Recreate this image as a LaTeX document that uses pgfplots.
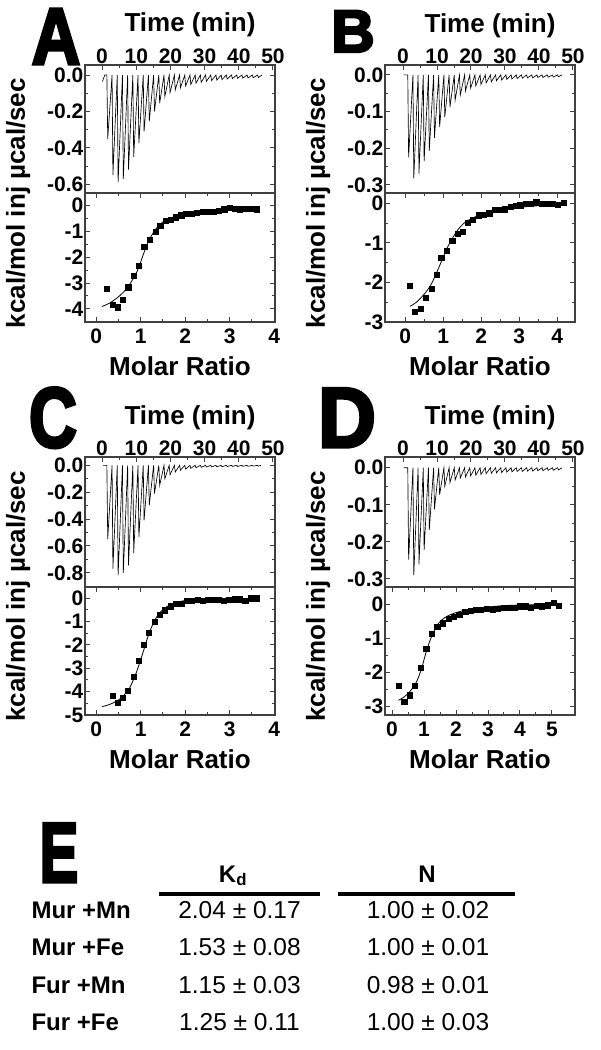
\documentclass[border=0pt]{standalone}
\usepackage{pgfplots}
\pgfplotsset{compat=1.18}
\usepackage{fontspec}
\setmainfont{Liberation Sans}
\newfontfamily\heavyfont{Liberation Sans}[BoldFont={Liberation Sans Bold},BoldFeatures={FakeBold=4}]
\newcommand\ticksfont{\fontsize{21}{23}\selectfont\bfseries}
\newcommand\titlefont{\fontsize{26}{30}\selectfont\bfseries}
\newcommand\rowfont{\fontsize{24}{28}\selectfont\bfseries}
\newcommand\valfont{\fontsize{24.5}{28}\selectfont}
\newcommand\letterfont{\fontsize{85}{95}\selectfont\heavyfont\bfseries}

\pgfplotsset{
  itc/.style={scale only axis, width=190pt,
    axis line style={line width=1.2pt, black!75},
    tick style={line width=1pt, black!75},
    major tick length=5pt, minor tick length=3pt, tick align=inside,
    tick label style={font=\ticksfont, inner sep=1.5pt},
    label style={font=\titlefont},
    clip=true},
  topax/.style={itc,
    xtick={0,10,20,30,40,50}, xticklabels={0,10,20,30,40,50},
    minor x tick num=1, xtick pos=right, xticklabel pos=right,
    minor y tick num=1,
    xlabel={Time (min)},
    xlabel style={at={(axis description cs:0.553,1)}, anchor=base, yshift=33pt},
    ylabel={µcal/sec},
    ylabel style={at={(axis description cs:-0.316,0.5)}, anchor=base}},
  botax/.style={itc,
    minor x tick num=1, minor y tick num=1,
    xticklabel style={yshift=-5pt},
    xlabel={Molar Ratio},
    xlabel style={at={(axis description cs:0.5,0)}, anchor=base, yshift=-53pt},
    ylabel={kcal/mol inj},
    ylabel style={at={(axis description cs:-0.316,0.5)}, anchor=base}},
  raw/.style={line width=0.65pt, black},
  fit/.style={line width=0.8pt, black, smooth, tension=0.5},
  pts/.style={only marks, mark=square*, mark size=2.6pt, black},
}

\begin{document}
\begin{tikzpicture}
%================ A ================
\begin{axis}[topax, at={(85pt,-193pt)}, anchor=south west, height=128pt,
  xmin=-5, xmax=50.6, ymin=-0.648, ymax=0.055,
  ytick={0,-0.2,-0.4,-0.6}, yticklabels={0.0,-0.2,-0.4,-0.6}]
\addplot[raw] coordinates {
(0.1,-0.035) (0.8,0)
(1.40,0) (1.65,-0.35) (2.92,0) (3.17,-0.55) (4.44,0) (4.69,-0.59)
(5.96,0) (6.21,-0.57) (7.48,0) (7.73,-0.52) (9.00,0) (9.25,-0.45)
(10.52,0) (10.77,-0.375) (12.04,0) (12.29,-0.31) (13.56,0) (13.81,-0.255)
(15.08,0) (15.33,-0.20) (16.60,0) (16.85,-0.155) (18.12,0) (18.37,-0.118)
(19.64,0) (19.89,-0.097) (21.16,0) (21.41,-0.082) (22.68,0) (22.93,-0.07)
(24.20,0) (24.45,-0.06) (25.72,0) (25.97,-0.052) (27.24,0) (27.49,-0.045)
(28.76,0) (29.01,-0.04) (30.28,0) (30.53,-0.035) (31.80,0) (32.05,-0.031)
(33.32,0) (33.57,-0.028) (34.84,0) (35.09,-0.025) (36.36,0) (36.61,-0.022)
(37.88,0) (38.13,-0.02) (39.40,0) (39.65,-0.018) (40.92,0) (41.17,-0.017)
(42.44,0) (42.69,-0.016) (43.96,0) (44.21,-0.015) (45.48,0) (45.73,-0.014)
(46.8,0)};
\end{axis}
\begin{axis}[botax, at={(85pt,-193pt)}, anchor=north west, height=129pt,
  xmin=-0.25, xmax=4.02, ymin=-4.51, ymax=0.49,
  xtick={0,1,2,3,4}, xticklabels={0,1,2,3,4},
  ytick={0,-1,-2,-3,-4}, yticklabels={0,-1,-2,-3,-4}]
\addplot[pts] coordinates {
(0.24,-3.23) (0.37,-3.85) (0.48,-3.94) (0.60,-3.63) (0.72,-3.16)
(0.84,-2.71) (0.95,-2.32) (1.08,-1.59) (1.20,-1.33) (1.33,-1.01)
(1.44,-0.77) (1.57,-0.58) (1.68,-0.53) (1.79,-0.45) (1.91,-0.37)
(2.02,-0.32) (2.15,-0.30) (2.26,-0.26) (2.39,-0.25) (2.50,-0.22)
(2.63,-0.22) (2.75,-0.19) (2.88,-0.14) (3.01,-0.08) (3.12,-0.13)
(3.23,-0.14) (3.37,-0.13) (3.48,-0.12) (3.61,-0.14)};
\addplot[fit] coordinates {
(0.13,-3.91) (0.3,-3.78) (0.46,-3.59) (0.6,-3.38) (0.72,-3.14) (0.85,-2.78)
(0.95,-2.43) (1.08,-1.8) (1.2,-1.3) (1.33,-0.94) (1.44,-0.71) (1.57,-0.56)
(1.8,-0.4) (2.03,-0.3) (2.48,-0.19) (3.08,-0.13) (3.65,-0.10)};
\end{axis}
%================ B ================
\begin{axis}[topax, at={(385pt,-193pt)}, anchor=south west, height=128pt,
  xmin=-5.3, xmax=50.6, ymin=-0.322, ymax=0.027,
  ytick={0,-0.1,-0.2,-0.3}, yticklabels={0.0,-0.1,-0.2,-0.3}]
\addplot[raw] coordinates {
(0.2,0)
(1.40,0) (1.65,-0.225) (2.92,0) (3.17,-0.282) (4.44,0) (4.69,-0.269)
(5.96,0) (6.21,-0.236) (7.48,0) (7.73,-0.207) (9.00,0) (9.25,-0.172)
(10.52,0) (10.77,-0.142) (12.04,0) (12.29,-0.115) (13.56,0) (13.81,-0.088)
(15.08,0) (15.33,-0.069) (16.60,0) (16.85,-0.055) (18.12,0) (18.37,-0.044)
(19.64,0) (19.89,-0.036) (21.16,0) (21.41,-0.030) (22.68,0) (22.93,-0.026)
(24.20,0) (24.45,-0.022) (25.72,0) (25.97,-0.019) (27.24,0) (27.49,-0.016)
(28.76,0) (29.01,-0.014) (30.28,0) (30.53,-0.012) (31.80,0) (32.05,-0.011)
(33.32,0) (33.57,-0.010) (34.84,0) (35.09,-0.009) (36.36,0) (36.61,-0.008)
(37.88,0) (38.13,-0.008) (39.40,0) (39.65,-0.007) (40.92,0) (41.17,-0.007)
(42.44,0) (42.69,-0.006) (43.96,0) (44.21,-0.006) (45.48,0) (45.73,-0.005)
(46.8,0)};
\end{axis}
\begin{axis}[botax, at={(385pt,-193pt)}, anchor=north west, height=129pt,
  xmin=-0.53, xmax=4.47, ymin=-3.0, ymax=0.26,
  xtick={0,1,2,3,4}, xticklabels={0,1,2,3,4},
  ytick={0,-1,-2,-3}, yticklabels={0,-1,-2,-3}]
\addplot[pts] coordinates {
(0.13,-2.09) (0.26,-2.74) (0.40,-2.67) (0.55,-2.38) (0.69,-2.16)
(0.82,-1.81) (0.95,-1.38) (1.10,-1.19) (1.24,-0.94) (1.38,-0.76)
(1.51,-0.71) (1.65,-0.49) (1.78,-0.41) (1.93,-0.30) (2.07,-0.28)
(2.21,-0.25) (2.35,-0.17) (2.49,-0.17) (2.62,-0.15) (2.77,-0.08)
(2.90,-0.07) (3.03,-0.05) (3.17,-0.01) (3.31,-0.02) (3.45,0.03)
(3.59,-0.02) (3.74,-0.02) (3.87,-0.02) (4.02,-0.03) (4.18,0.02)};
\addplot[fit] coordinates {
(0.13,-2.6) (0.3,-2.5) (0.55,-2.24) (0.7,-2.02) (0.82,-1.77) (0.95,-1.48)
(1.1,-1.14) (1.24,-0.89) (1.38,-0.68) (1.54,-0.51) (1.8,-0.36) (2.15,-0.25)
(2.68,-0.14) (3.38,-0.07) (4.18,-0.03)};
\end{axis}
%================ C ================
\begin{axis}[topax, at={(85pt,-587pt)}, anchor=south west, height=130pt,
  xmin=-5, xmax=50.6, ymin=-0.906, ymax=0.062,
  ytick={0,-0.2,-0.4,-0.6,-0.8}, yticklabels={0.0,-0.2,-0.4,-0.6,-0.8}]
\addplot[raw] coordinates {
(0.2,0)
(1.40,0) (1.65,-0.55) (2.92,0) (3.17,-0.77) (4.44,0) (4.69,-0.82)
(5.96,0) (6.21,-0.80) (7.48,0) (7.73,-0.745) (9.00,0) (9.25,-0.653)
(10.52,0) (10.77,-0.534) (12.04,0) (12.29,-0.41) (13.56,0) (13.81,-0.298)
(15.08,0) (15.33,-0.211) (16.60,0) (16.85,-0.149) (18.12,0) (18.37,-0.10)
(19.64,0) (19.89,-0.07) (21.16,0) (21.41,-0.05) (22.68,0) (22.93,-0.036)
(24.20,0) (24.45,-0.028) (25.72,0) (25.97,-0.022) (27.24,0) (27.49,-0.018)
(28.76,0) (29.01,-0.015) (30.28,0) (30.53,-0.013) (31.80,0) (32.05,-0.012)
(33.32,0) (33.57,-0.011) (34.84,0) (35.09,-0.010) (36.36,0) (36.61,-0.009)
(37.88,0) (38.13,-0.008) (39.40,0) (39.65,-0.008) (40.92,0) (41.17,-0.007)
(42.44,0) (42.69,-0.007) (43.96,0) (44.21,-0.006) (45.48,0) (45.73,-0.006)
(46.5,0)};
\end{axis}
\begin{axis}[botax, at={(85pt,-587pt)}, anchor=north west, height=128pt,
  xmin=-0.25, xmax=4.02, ymin=-5.0, ymax=0.48,
  xtick={0,1,2,3,4}, xticklabels={0,1,2,3,4},
  ytick={0,-1,-2,-3,-4,-5}, yticklabels={0,-1,-2,-3,-4,-5}]
\addplot[pts] coordinates {
(0.37,-4.19) (0.48,-4.46) (0.59,-4.26) (0.71,-3.97) (0.84,-3.37)
(0.95,-2.67) (1.07,-2.00) (1.19,-1.46) (1.31,-1.00) (1.43,-0.69)
(1.55,-0.51) (1.67,-0.34) (1.79,-0.23) (1.91,-0.23) (2.03,-0.12)
(2.15,-0.10) (2.28,-0.06) (2.40,-0.10) (2.51,-0.07) (2.63,-0.07)
(2.75,-0.06) (2.87,-0.09) (2.99,-0.07) (3.11,-0.04) (3.23,-0.04)
(3.35,-0.10) (3.48,0.0) (3.60,0.0)};
\addplot[fit] coordinates {
(0.13,-4.64) (0.3,-4.55) (0.5,-4.36) (0.65,-4.1) (0.75,-3.85) (0.88,-3.3)
(0.99,-2.7) (1.1,-2.04) (1.2,-1.45) (1.33,-0.9) (1.44,-0.6) (1.6,-0.35)
(1.78,-0.2) (2.0,-0.1) (2.4,-0.04) (3.0,-0.02) (3.65,-0.01)};
\end{axis}
%================ D ================
\begin{axis}[topax, at={(385pt,-587pt)}, anchor=south west, height=130pt,
  xmin=-5.3, xmax=50.6, ymin=-0.322, ymax=0.029,
  ytick={0,-0.1,-0.2,-0.3}, yticklabels={0.0,-0.1,-0.2,-0.3}]
\addplot[raw] coordinates {
(0.2,0)
(1.40,0) (1.65,-0.248) (2.92,0) (3.17,-0.29) (4.44,0) (4.69,-0.261)
(5.96,0) (6.21,-0.222) (7.48,0) (7.73,-0.168) (9.00,0) (9.25,-0.112)
(10.52,0) (10.77,-0.073) (12.04,0) (12.29,-0.05) (13.56,0) (13.81,-0.04)
(15.08,0) (15.33,-0.033) (16.60,0) (16.85,-0.028) (18.12,0) (18.37,-0.025)
(19.64,0) (19.89,-0.022) (21.16,0) (21.41,-0.020) (22.68,0) (22.93,-0.018)
(24.20,0) (24.45,-0.016) (25.72,0) (25.97,-0.015) (27.24,0) (27.49,-0.014)
(28.76,0) (29.01,-0.013) (30.28,0) (30.53,-0.012) (31.80,0) (32.05,-0.011)
(33.32,0) (33.57,-0.010) (34.84,0) (35.09,-0.010) (36.36,0) (36.61,-0.009)
(37.88,0) (38.13,-0.009) (39.40,0) (39.65,-0.008) (40.92,0) (41.17,-0.008)
(42.44,0) (42.69,-0.007) (43.96,0) (44.21,-0.007) (45.48,0) (45.73,-0.006)
(46.8,0)};
\end{axis}
\begin{axis}[botax, at={(385pt,-587pt)}, anchor=north west, height=128pt,
  xmin=-0.22, xmax=5.72, ymin=-3.25, ymax=0.5,
  xtick={0,1,2,3,4,5}, xticklabels={0,1,2,3,4,5},
  ytick={0,-1,-2,-3}, yticklabels={0,-1,-2,-3}]
\addplot[pts] coordinates {
(0.20,-2.40) (0.38,-2.87) (0.54,-2.67) (0.72,-2.40) (0.89,-1.86)
(1.07,-1.30) (1.25,-0.86) (1.41,-0.67) (1.59,-0.56) (1.77,-0.43)
(1.94,-0.36) (2.10,-0.32) (2.29,-0.23) (2.45,-0.19) (2.62,-0.17)
(2.78,-0.16) (2.96,-0.13) (3.14,-0.16) (3.30,-0.13) (3.48,-0.11)
(3.66,-0.11) (3.83,-0.10) (4.00,-0.06) (4.18,-0.06) (4.34,-0.10)
(4.52,-0.05) (4.68,-0.06) (4.87,-0.03) (5.05,0.05) (5.21,-0.05)};
\addplot[fit] coordinates {
(0.2,-2.82) (0.35,-2.74) (0.52,-2.6) (0.65,-2.45) (0.77,-2.27) (0.92,-1.9)
(1.08,-1.36) (1.25,-0.92) (1.45,-0.57) (1.66,-0.39) (1.97,-0.26) (2.49,-0.14)
(3.43,-0.05) (4.3,-0.02) (5.2,0.0)};
\end{axis}
%================ letters ================
\node[anchor=base, inner sep=0pt, font=\fontsize{80}{90}\selectfont\heavyfont\bfseries, xscale=0.84] at (56pt,-64pt) {A};
\node[anchor=base, inner sep=0pt, font=\fontsize{60}{66}\selectfont\heavyfont\bfseries] at (353pt,-52pt) {B};
\node[anchor=base, inner sep=0pt, font=\letterfont, xscale=0.78] at (53pt,-447pt) {C};
\node[anchor=base, inner sep=0pt, font=\letterfont, xscale=0.94] at (347pt,-447pt) {D};
\node[anchor=base, inner sep=0pt, font=\letterfont, xscale=0.68] at (59pt,-882pt) {E};
%================ table E ================
\node[anchor=base, font=\rowfont] at (233pt,-882pt) {K\textsubscript{d}};
\node[anchor=base, font=\rowfont] at (427pt,-882pt) {N};
\draw[line width=4pt] (159pt,-894pt) -- (320pt,-894pt);
\draw[line width=4pt] (338pt,-894pt) -- (515pt,-894pt);
\node[anchor=base west, font=\rowfont] at (28pt,-918pt) {Mur +Mn};
\node[anchor=base west, font=\rowfont] at (28pt,-955.5pt) {Mur +Fe};
\node[anchor=base west, font=\rowfont] at (28pt,-993pt) {Fur +Mn};
\node[anchor=base west, font=\rowfont] at (28pt,-1030pt) {Fur +Fe};
\node[anchor=base, font=\valfont] at (239.5pt,-918pt) {2.04 ± 0.17};
\node[anchor=base, font=\valfont] at (239.5pt,-955.5pt) {1.53 ± 0.08};
\node[anchor=base, font=\valfont] at (239.5pt,-993pt) {1.15 ± 0.03};
\node[anchor=base, font=\valfont] at (239.5pt,-1030pt) {1.25 ± 0.11};
\node[anchor=base, font=\valfont] at (428pt,-918pt) {1.00 ± 0.02};
\node[anchor=base, font=\valfont] at (428pt,-955.5pt) {1.00 ± 0.01};
\node[anchor=base, font=\valfont] at (428pt,-993pt) {0.98 ± 0.01};
\node[anchor=base, font=\valfont] at (428pt,-1030pt) {1.00 ± 0.03};
\pgfresetboundingbox
\path[use as bounding box] (0pt,0pt) rectangle (600pt,-1050pt);
\end{tikzpicture}
\end{document}
